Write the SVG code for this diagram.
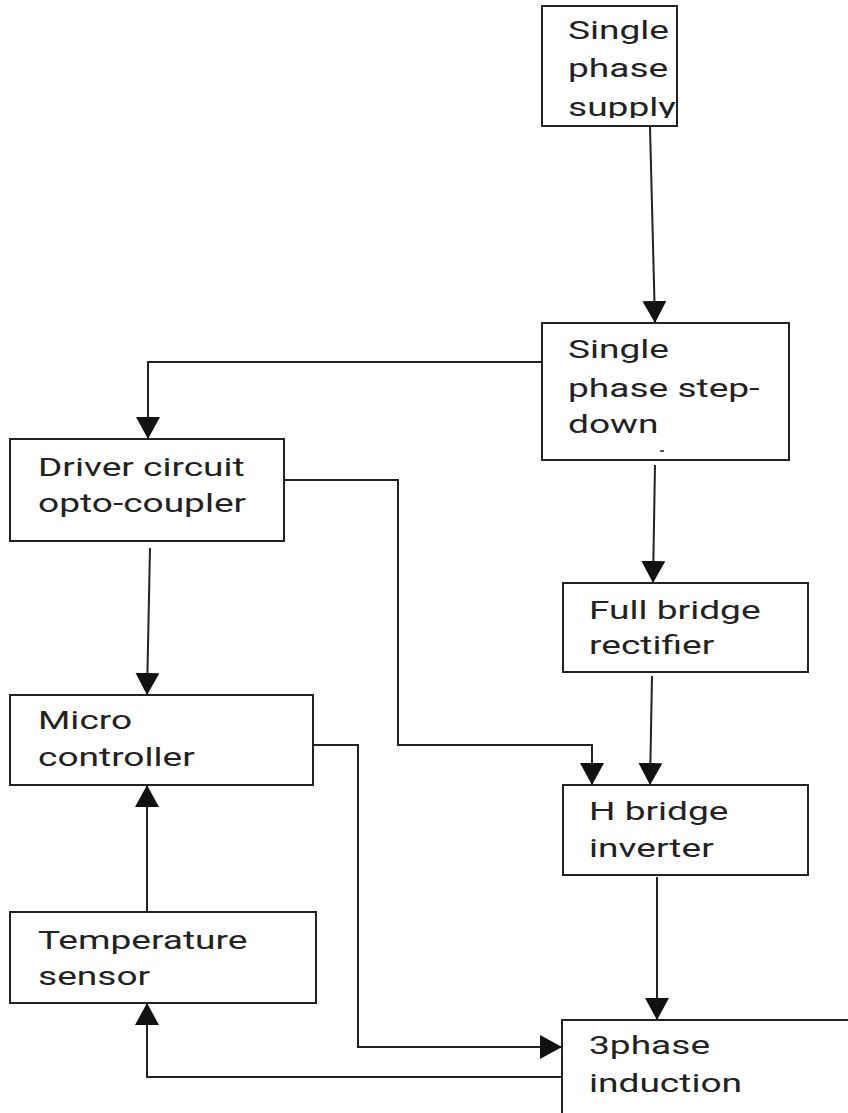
<svg xmlns="http://www.w3.org/2000/svg" width="848" height="1113" viewBox="0 0 848 1113">
<style>
.box{fill:#fff;stroke:#222;stroke-width:2}
.t{font-family:Roboto,"Liberation Sans",sans-serif;font-size:26.5px;fill:#222}
.c{fill:none;stroke:#222;stroke-width:2}
</style>
<defs>
<marker id="ah" viewBox="0 0 22 24" refX="22" refY="12" markerWidth="22" markerHeight="24" markerUnits="userSpaceOnUse" orient="auto"><path d="M0,0 L22,12 L0,24 z" fill="#111"/></marker>
<clipPath id="clip1"><rect x="542" y="6" width="135" height="112"/></clipPath>
</defs>
<rect width="848" height="1113" fill="#fff"/>
<g id="connectors">
<line class="c" x1="650" y1="127" x2="655" y2="323" marker-end="url(#ah)"/>
<polyline class="c" points="542,362 148,362 148,439" marker-end="url(#ah)"/>
<line class="c" x1="150" y1="548" x2="147" y2="695" marker-end="url(#ah)"/>
<polyline class="c" points="284,480 398,480 398,745 592,745 592,785" marker-end="url(#ah)"/>
<line class="c" x1="655" y1="465" x2="653" y2="583" marker-end="url(#ah)"/>
<line class="c" x1="652" y1="676" x2="650" y2="785" marker-end="url(#ah)"/>
<line class="c" x1="657" y1="877" x2="657" y2="1020" marker-end="url(#ah)"/>
<line class="c" x1="147" y1="912" x2="147" y2="785" marker-end="url(#ah)"/>
<polyline class="c" points="313,745 358,745 358,1047 562,1047" marker-end="url(#ah)"/>
<polyline class="c" points="562,1077 147,1077 147,1003" marker-end="url(#ah)"/>
</g>
<g id="supply">
<rect class="box" x="542" y="6" width="135" height="120"/>
<g clip-path="url(#clip1)">
<text class="t" transform="translate(568,39) scale(1.4,1)">Single</text>
<text class="t" transform="translate(568,77) scale(1.4,1)">phase</text>
<text class="t" transform="translate(568,116) scale(1.4,1)">supply</text>
</g>
</g>
<g id="stepdown">
<rect class="box" x="542" y="323" width="247" height="137"/>
<text class="t" transform="translate(568,358) scale(1.4,1)">Single</text>
<text class="t" transform="translate(568,397) scale(1.4,1)">phase step-</text>
<text class="t" transform="translate(568,433) scale(1.4,1)">down</text>
<line x1="660" y1="451" x2="664" y2="451" stroke="#222" stroke-width="1.5"/>
</g>
<g id="driver">
<rect class="box" x="10" y="439" width="274" height="102"/>
<text class="t" transform="translate(38,476) scale(1.4,1)">Driver circuit</text>
<text class="t" transform="translate(38,512) scale(1.4,1)">opto-coupler</text>
</g>
<g id="rectifier">
<rect class="box" x="563" y="583" width="245" height="89"/>
<text class="t" transform="translate(589,619) scale(1.4,1)">Full bridge</text>
<text class="t" transform="translate(589,654) scale(1.4,1)">rectifier</text>
</g>
<g id="micro">
<rect class="box" x="10" y="695" width="303" height="90"/>
<text class="t" transform="translate(38,729) scale(1.4,1)">Micro</text>
<text class="t" transform="translate(38,766) scale(1.4,1)">controller</text>
</g>
<g id="hbridge">
<rect class="box" x="563" y="785" width="245" height="90"/>
<text class="t" transform="translate(589,820) scale(1.4,1)">H bridge</text>
<text class="t" transform="translate(589,857) scale(1.4,1)">inverter</text>
</g>
<g id="temp">
<rect class="box" x="10" y="912" width="306" height="91"/>
<text class="t" transform="translate(38,949) scale(1.4,1)">Temperature</text>
<text class="t" transform="translate(38,985) scale(1.4,1)">sensor</text>
</g>
<g id="induction">
<rect class="box" x="562" y="1020" width="300" height="110"/>
<text class="t" transform="translate(589,1054) scale(1.4,1)">3phase</text>
<text class="t" transform="translate(589,1092) scale(1.4,1)">induction</text>
</g>
</svg>
